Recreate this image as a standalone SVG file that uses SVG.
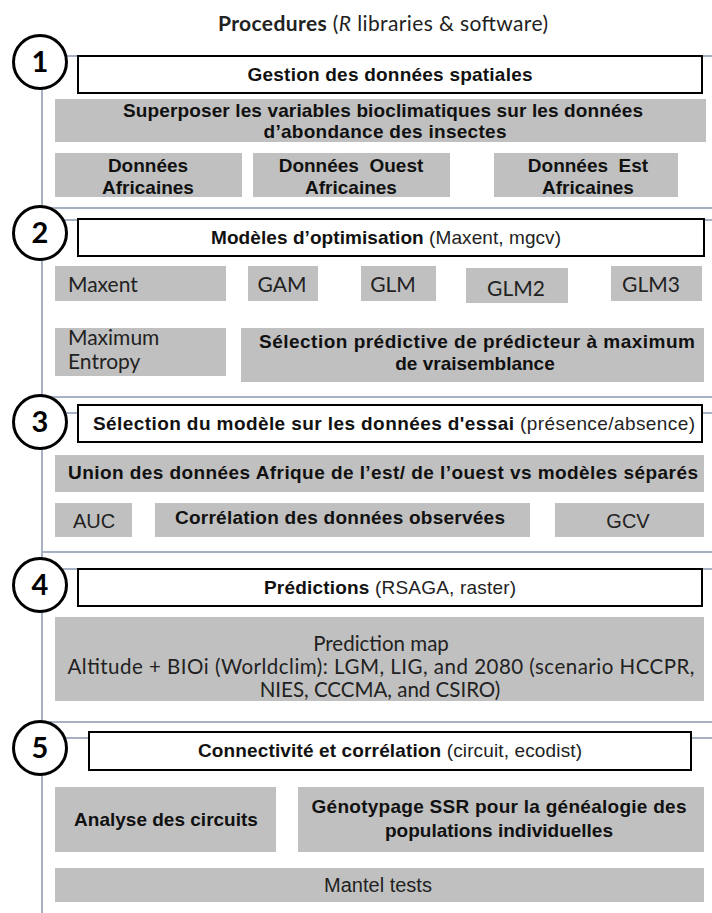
<svg xmlns="http://www.w3.org/2000/svg" width="712" height="913" viewBox="0 0 712 913">
<style>
.b{font-family:"Liberation Sans",Arial,sans-serif;font-weight:bold;font-size:19px;fill:#111}
.r{font-family:"Liberation Sans",Arial,sans-serif;font-weight:normal;font-size:19px;fill:#222}
.r2{font-family:"Liberation Sans",Arial,sans-serif;font-weight:normal;font-size:20px;fill:#222}
.c{font-family:Lato,"Open Sans",sans-serif;font-size:21px;fill:#222}
.p{font-family:Lato,"Open Sans",sans-serif;font-size:20.5px;fill:#222}
.m{text-anchor:middle}
.g{fill:#c0c0c0}
.h{fill:#fff;stroke:#000;stroke-width:2}
.n{fill:#fff;stroke:#000;stroke-width:3}
.d{font-family:Lato,"Open Sans",sans-serif;font-size:29px;font-weight:bold;fill:#000;text-anchor:middle}
.ln{stroke:#a7b1c4;stroke-width:2;fill:none}
</style>
<rect width="712" height="913" fill="#fff"/>
<g id="connectors">
<line class="ln" x1="42" y1="62" x2="42" y2="913"/>
<line class="ln" x1="42" y1="208" x2="712" y2="208"/>
<line class="ln" x1="42" y1="397" x2="712" y2="397"/>
<line class="ln" x1="42" y1="552" x2="712" y2="552"/>
<line class="ln" x1="42" y1="722" x2="712" y2="722"/>
<line class="ln" x1="40" y1="56" x2="712" y2="56"/>
<line class="ln" x1="40" y1="220" x2="712" y2="220"/>
<line class="ln" x1="40" y1="413" x2="712" y2="413"/>
<line class="ln" x1="40" y1="569" x2="712" y2="569"/>
<line class="ln" x1="40" y1="738" x2="712" y2="738"/>
</g>
<g id="title">
<text class="c m" x="383" y="31" textLength="330"><tspan font-weight="bold">Procedures</tspan> (<tspan font-style="italic">R</tspan> libraries &amp; software)</text>
</g>
<g id="step1">
<circle class="n" cx="40" cy="62" r="26.5"/><text class="d" x="40" y="72">1</text>
<rect class="h" x="78" y="56" width="624" height="37"/>
<text class="b m" x="390" y="81" textLength="285">Gestion des données spatiales</text>
</g>
<g id="superposer">
<rect class="g" x="55" y="99" width="651" height="43"/>
<text class="b m" x="383" y="117" textLength="520">Superposer les variables bioclimatiques sur les données</text>
<text class="b m" x="385" y="138" textLength="243">d’abondance des insectes</text>
</g>
<g id="donnees-africaines">
<rect class="g" x="55" y="153" width="187" height="44"/>
<text class="b m" x="148" y="172">Données</text>
<text class="b m" x="148" y="194">Africaines</text>
</g>
<g id="donnees-ouest">
<rect class="g" x="253" y="153" width="197" height="44"/>
<text class="b m" x="351" y="172" xml:space="preserve">Données  Ouest</text>
<text class="b m" x="351" y="194">Africaines</text>
</g>
<g id="donnees-est">
<rect class="g" x="494" y="153" width="184" height="44"/>
<text class="b m" x="588" y="172" xml:space="preserve">Données  Est</text>
<text class="b m" x="588" y="194">Africaines</text>
</g>
<g id="step2">
<circle class="n" cx="40" cy="233" r="26.5"/><text class="d" x="40" y="243">2</text>
<rect class="h" x="78" y="219" width="626" height="37"/>
<text class="b m" x="386" y="244" textLength="350">Modèles d’optimisation<tspan class="r"> (Maxent, mgcv)</tspan></text>
</g>
<g id="maxent"><rect class="g" x="55" y="266" width="171" height="35"/><text class="c" x="68" y="292">Maxent</text></g>
<g id="gam"><rect class="g" x="248" y="266" width="70" height="35"/><text class="c m" x="282" y="292">GAM</text></g>
<g id="glm"><rect class="g" x="361" y="266" width="75" height="35"/><text class="c m" x="393" y="292">GLM</text></g>
<g id="glm2"><rect class="g" x="466" y="268" width="102" height="35"/><text class="c m" x="516" y="296">GLM2</text></g>
<g id="glm3"><rect class="g" x="611" y="266" width="91" height="35"/><text class="c m" x="651" y="292">GLM3</text></g>
<g id="maxent-entropy"><rect class="g" x="55" y="328" width="171" height="48"/>
<text class="c" x="68" y="345">Maximum</text><text class="c" x="68" y="369">Entropy</text></g>
<g id="selection-predictive"><rect class="g" x="241" y="328" width="463" height="54"/>
<text class="b m" x="477" y="348" textLength="436">Sélection prédictive de prédicteur à maximum</text>
<text class="b m" x="475" y="370">de vraisemblance</text></g>
<g id="step3">
<circle class="n" cx="40" cy="422" r="26.5"/><text class="d" x="40" y="432">3</text>
<rect class="h" x="78" y="405" width="624" height="37"/>
<text class="b m" x="394" y="430" textLength="602">Sélection du modèle sur les données d'essai<tspan class="r"> (présence/absence)</tspan></text>
</g>
<g id="union"><rect class="g" x="55" y="455" width="649" height="37"/>
<text class="b m" x="383" y="479" textLength="630">Union des données Afrique de l’est/ de l’ouest vs modèles séparés</text></g>
<g id="auc"><rect class="g" x="55" y="503" width="77" height="34"/><text class="r2 m" x="94" y="528">AUC</text></g>
<g id="correlation"><rect class="g" x="155" y="503" width="375" height="34"/>
<text class="b m" x="340" y="524" textLength="330">Corrélation des données observées</text></g>
<g id="gcv"><rect class="g" x="555" y="503" width="149" height="34"/><text class="r2 m" x="628" y="528">GCV</text></g>
<g id="step4">
<circle class="n" cx="40" cy="585" r="26.5"/><text class="d" x="40" y="595">4</text>
<rect class="h" x="78" y="569" width="624" height="37"/>
<text class="b m" x="390" y="594" textLength="252">Prédictions<tspan class="r"> (RSAGA, raster)</tspan></text>
</g>
<g id="prediction"><rect class="g" x="55" y="617" width="649" height="84"/>
<text class="p m" x="381" y="651">Prediction map</text>
<text class="p m" x="381" y="674" textLength="627">Altitude + BIOi (Worldclim): LGM, LIG, and 2080 (scenario HCCPR,</text>
<text class="p m" x="380" y="697">NIES, CCCMA, and CSIRO)</text></g>
<g id="step5">
<circle class="n" cx="40" cy="748" r="26.5"/><text class="d" x="40" y="758">5</text>
<rect class="h" x="89" y="732" width="602" height="38"/>
<text class="b m" x="390" y="757" textLength="384">Connectivité et corrélation<tspan class="r"> (circuit, ecodist)</tspan></text>
</g>
<g id="analyse"><rect class="g" x="55" y="787" width="221" height="65"/>
<text class="b m" x="166" y="826">Analyse des circuits</text></g>
<g id="genotypage"><rect class="g" x="298" y="787" width="406" height="65"/>
<text class="b m" x="499" y="813" textLength="375">Génotypage SSR pour la généalogie des</text>
<text class="b m" x="499" y="837">populations individuelles</text></g>
<g id="mantel"><rect class="g" x="55" y="868" width="649" height="34"/>
<text class="r2 m" x="378" y="892">Mantel tests</text></g>
</svg>
